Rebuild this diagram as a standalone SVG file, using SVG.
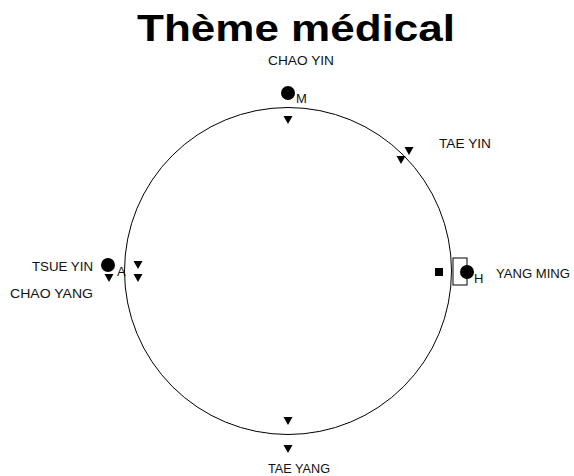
<svg xmlns="http://www.w3.org/2000/svg" width="574" height="476" viewBox="0 0 574 476">
<defs>
<style>
.t{font-family:"Liberation Sans",Arial,sans-serif;font-size:13px;fill:#111}
.title{font-family:"Liberation Sans",Arial,sans-serif;font-size:36px;font-weight:bold;fill:#000}
.dot{fill:#000}
.tri{fill:#000}
</style>
<path id="tri" d="M-4.5,-4 L4.5,-4 L0,4 Z"/>
</defs>
<rect width="574" height="476" fill="#fff"/>
<text class="title" x="137" y="41" textLength="318" lengthAdjust="spacingAndGlyphs">Thème médical</text>
<g id="connectors">
<circle cx="288" cy="271" r="163.5" fill="none" stroke="#000" stroke-width="1"/>
</g>
<g id="chao-yin">
<text class="t" x="268" y="65" textLength="66" lengthAdjust="spacingAndGlyphs">CHAO YIN</text>
<circle class="dot" cx="288" cy="93" r="7"/>
<text class="t" x="296" y="103" font-size="11">M</text>
<use href="#tri" x="288" y="120"/>
</g>
<g id="tae-yin">
<text class="t" x="439" y="148" textLength="52" lengthAdjust="spacingAndGlyphs">TAE YIN</text>
<use href="#tri" x="409" y="151"/>
<use href="#tri" x="401" y="160"/>
</g>
<g id="tsue-yin">
<text class="t" x="32" y="271" textLength="61" lengthAdjust="spacingAndGlyphs">TSUE YIN</text>
<text class="t" x="10" y="298" textLength="83" lengthAdjust="spacingAndGlyphs">CHAO YANG</text>
<circle class="dot" cx="108" cy="265" r="7"/>
<text class="t" x="117" y="276" font-size="11">A</text>
<use href="#tri" x="109" y="278"/>
<use href="#tri" x="138" y="265"/>
<use href="#tri" x="138" y="278"/>
</g>
<g id="yang-ming">
<rect x="435" y="268" width="8" height="8" fill="#000"/>
<rect x="453" y="258" width="14" height="27" fill="none" stroke="#000" stroke-width="1"/>
<circle class="dot" cx="467" cy="272" r="7"/>
<text class="t" x="474" y="283" font-size="11">H</text>
<text class="t" x="496" y="278" textLength="74" lengthAdjust="spacingAndGlyphs">YANG MING</text>
</g>
<g id="tae-yang">
<use href="#tri" x="288" y="421"/>
<use href="#tri" x="288" y="449"/>
<text class="t" x="268" y="473" textLength="62" lengthAdjust="spacingAndGlyphs">TAE YANG</text>
</g>
</svg>
